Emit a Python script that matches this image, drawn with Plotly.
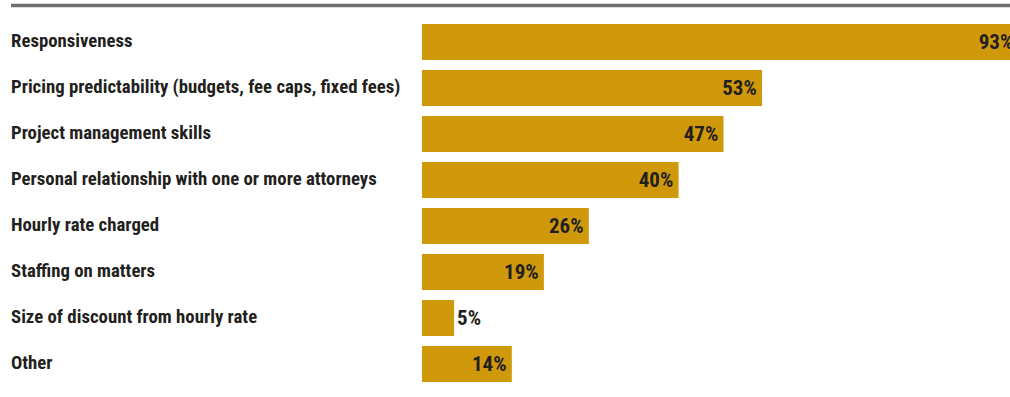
import plotly.graph_objects as go

# Survey results: factors weighed when choosing outside counsel
categories = [
    "Responsiveness",
    "Pricing predictability (budgets, fee caps, fixed fees)",
    "Project management skills",
    "Personal relationship with one or more attorneys",
    "Hourly rate charged",
    "Staffing on matters",
    "Size of discount from hourly rate",
    "Other",
]
percent = [93, 53, 47, 40, 26, 19, 5, 14]
value_labels = ["93%", "53%", "47%", "40%", "26%", "19%", "5%", "14%"]

BAR = "#D0990C"
INK = "#231F20"
FONT = "Roboto Condensed, Open Sans Condensed, sans-serif"

W, H = 1010, 397
ML, MR, MT, MB = 422, 0, 19, 10
plot_w = W - ML - MR
PX_PER_PCT = 6.415

# small bars get their label outside the bar
text_pos = ["outside" if v < 8 else "inside" for v in percent]

fig = go.Figure(
    go.Bar(
        x=percent,
        y=categories,
        orientation="h",
        marker=dict(color=BAR, line=dict(width=0)),
        width=0.78,
        text=value_labels,
        texttemplate="%{text}\u200a",
        textposition=text_pos,
        insidetextanchor="end",
        constraintext="none",
        cliponaxis=True,
        textfont=dict(family=FONT, size=21, color=INK, weight="bold"),
        hoverinfo="skip",
    )
)

# left-aligned category labels
for cat in categories:
    fig.add_annotation(
        x=(9 - ML) / plot_w, xref="paper", xanchor="left",
        y=cat, yref="y", yanchor="middle", yshift=1,
        text=cat, showarrow=False,
        font=dict(family=FONT, size=18.8, color=INK, weight="bold"),
    )

# header rule
rule_y = 1 + (MT - 5.5) / (H - MT - MB)
fig.add_shape(
    type="line", xref="paper", yref="paper",
    x0=(11 - ML) / plot_w, x1=1, y0=rule_y, y1=rule_y,
    line=dict(color="#6E6E6E", width=3.5),
)

fig.update_layout(
    width=W, height=H,
    margin=dict(l=ML, r=MR, t=MT, b=MB),
    paper_bgcolor="white", plot_bgcolor="white",
    showlegend=False,
    xaxis=dict(range=[0, plot_w / PX_PER_PCT], visible=False, fixedrange=True),
    yaxis=dict(
        categoryorder="array", categoryarray=categories,
        range=[len(categories) - 0.5, -0.5],
        showticklabels=False, showgrid=False, zeroline=False, showline=False,
        fixedrange=True,
    ),
)

fig.write_html("out.html", config={"displayModeBar": False})
